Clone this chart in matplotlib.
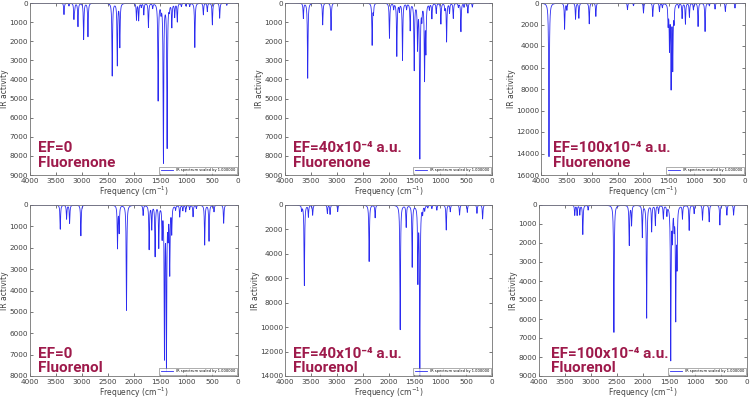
import numpy as np
import matplotlib
matplotlib.use("Agg")
import matplotlib.pyplot as plt

# peak lists: (frequency cm-1, peak height)
f_ef0_one = [3346, 3250, 3155, 3141, 3077, 2968, 2885, 2419, 2321, 2272, 1952, 1910, 1860,
             1811, 1722, 1640, 1536, 1480, 1434, 1363, 1320, 1272, 1217, 1167, 1088, 1000,
             928, 830, 666, 590, 493, 352, 215]
h_ef0_one = [600, 150, 790, 300, 1220, 1890, 1750, 3800, 3230, 2270, 870, 900, 200,
             600, 1260, 250, 5070, 400, 8280, 7510, 300, 1220, 700, 960, 170, 150,
             170, 2320, 610, 440, 1140, 790, 120]

f_ef40_one = [3645, 3561, 3271, 3110, 2316, 2290, 1981, 1900, 1839, 1790, 1729, 1650, 1581,
              1503, 1439, 1394, 1355, 1303, 1277, 1210, 1161, 1077, 987, 910, 877, 820, 748,
              650, 600, 540, 465, 380]
h_ef40_one = [790, 3930, 1140, 1430, 2180, 500, 1830, 300, 2760, 400, 2970, 300, 1400,
              3460, 2270, 8040, 700, 3880, 2410, 300, 790, 520, 1080, 300, 2010, 500, 790,
              200, 1490, 200, 520, 210]

f_ef100_one = [3843, 3537, 3492, 3322, 3257, 3054, 2924, 2304, 2186, 1990, 1808, 1677, 1620,
               1507, 1481, 1449, 1416, 1390, 1300, 1233, 1168, 1090, 1011, 920, 783, 698,
               587, 385, 196]
h_ef100_one = [14290, 2420, 620, 1490, 1400, 1930, 1240, 620, 250, 930, 1240, 780, 400,
               1860, 4040, 7610, 5900, 1550, 400, 1400, 1930, 1300, 620, 2170, 2640, 250,
               560, 780, 470]

f_ef0_ol = [3418, 3296, 3238, 3021, 2317, 2285, 2144, 1824, 1709, 1658, 1594, 1523, 1459,
            1414, 1376, 1344, 1312, 1274, 1200, 1120, 1060, 1005, 930, 864, 800, 640, 557,
            461, 275]
h_ef0_ol = [1130, 650, 850, 1440, 1990, 1240, 4920, 470, 2050, 1090, 2360, 1940, 1400,
            6940, 7460, 1200, 3110, 1240, 200, 540, 250, 310, 200, 540, 150, 1860, 1680,
            310, 850]

f_ef40_ol = [3677, 3626, 3548, 3465, 3181, 3129, 2981, 2374, 2258, 1774, 1658, 1542, 1432,
             1394, 1340, 1300, 1240, 1161, 1065, 884, 806, 626, 477, 290, 181]
h_ef40_ol = [410, 6580, 950, 820, 680, 760, 540, 4620, 1030, 10190, 1770, 5030, 6030,
             13860, 600, 400, 200, 270, 410, 2040, 540, 820, 600, 680, 1140]

f_ef100_ol = [3312, 3267, 3215, 3157, 3055, 2559, 2264, 2219, 2013, 1929, 1833, 1762, 1700,
              1608, 1540, 1466, 1434, 1400, 1370, 1345, 1241, 1112, 1016, 855, 727, 521,
              386, 257]
h_ef100_ol = [530, 530, 500, 1540, 260, 6700, 2100, 1050, 1670, 5930, 1370, 1050, 400,
              700, 500, 8070, 1600, 1000, 5820, 3000, 700, 1320, 440, 790, 880, 1050,
              530, 530]

labels = [("EF=0", "Fluorenone"), ("EF=40x10\u207b\u2074 a.u.", "Fluorenone"),
          ("EF=100x10\u207b\u2074 a.u.", "Fluorenone"),
          ("EF=0", "Fluorenol"), ("EF=40x10\u207b\u2074 a.u.", "Fluorenol"),
          ("EF=100x10\u207b\u2074 a.u.", "Fluorenol")]
ymax = [9000, 9000, 16000, 8000, 14000, 9000]
ystep = [1000, 1000, 2000, 1000, 2000, 1000]
peaks = [(f_ef0_one, h_ef0_one), (f_ef40_one, h_ef40_one), (f_ef100_one, h_ef100_one),
         (f_ef0_ol, h_ef0_ol), (f_ef40_ol, h_ef40_ol), (f_ef100_ol, h_ef100_ol)]

# axes boxes in pixels: left, top, width, height
boxes = [(30, 3, 208, 172), (285, 3, 207, 172), (541, 3, 204, 172),
         (30, 205, 208, 171), (285, 205, 207, 171), (539, 205, 208, 171)]
txt_x = [8, 8, 12, 8, 8, 12]

W, H = 750, 400
red = '#9e1a4b'
freq = np.arange(0, 4001, 1.0)
gam = 7.0  # lorentzian half width

fig = plt.figure(figsize=(7.5, 4), dpi=100)
for i in range(6):
    l, t, w, h = boxes[i]
    ax = fig.add_axes([l / W, 1 - (t + h) / H, w / W, h / H])
    fs, hs = peaks[i]
    spec = np.zeros_like(freq)
    for f0, h0 in zip(fs, hs):
        spec += h0 / (1 + ((freq - f0) / gam) ** 2)
    ax.plot(freq, spec, color='#2b2bf0', lw=0.6, label='IR spectrum scaled by 1.000000')
    ax.set_xlim(4000, 0)
    ax.set_ylim(ymax[i], 0)
    ax.set_xticks(np.arange(0, 4001, 500))
    ax.set_yticks(np.arange(0, ymax[i] + 1, ystep[i]))
    ax.tick_params(direction='in', top=True, right=True, labelsize=5.2, length=2.5,
                   width=0.5, colors='0.25')
    ax.tick_params(axis='x', pad=2.5)
    ax.tick_params(axis='y', pad=1.5)
    for s in ax.spines.values():
        s.set_linewidth(0.6)
        s.set_color('0.45')
    ax.set_xlabel('Frequency (cm$^{-1}$)', fontsize=5.5, labelpad=0.3, color='0.25')
    ax.set_ylabel('IR activity', fontsize=5.5, labelpad=0, color='0.25')
    leg = ax.legend(loc='lower right', fontsize=2.6, handlelength=3.5, borderpad=0.4,
                    borderaxespad=0.3, fancybox=False, frameon=True)
    leg.get_frame().set_linewidth(0.4)
    leg.get_frame().set_edgecolor('0.3')
    bot1 = 23 if i < 3 else 18
    bot2 = 8 if i < 3 else 4
    fam = ['Roboto', 'DejaVu Sans']
    ax.text(txt_x[i] / w, bot1 / h, labels[i][0], transform=ax.transAxes, color=red,
            fontsize=11, fontweight='bold', va='baseline', ha='left', family=fam)
    ax.text(txt_x[i] / w, bot2 / h, labels[i][1], transform=ax.transAxes, color=red,
            fontsize=11, fontweight='bold', va='baseline', ha='left', family=fam)

fig.savefig('out.png', dpi=100)
